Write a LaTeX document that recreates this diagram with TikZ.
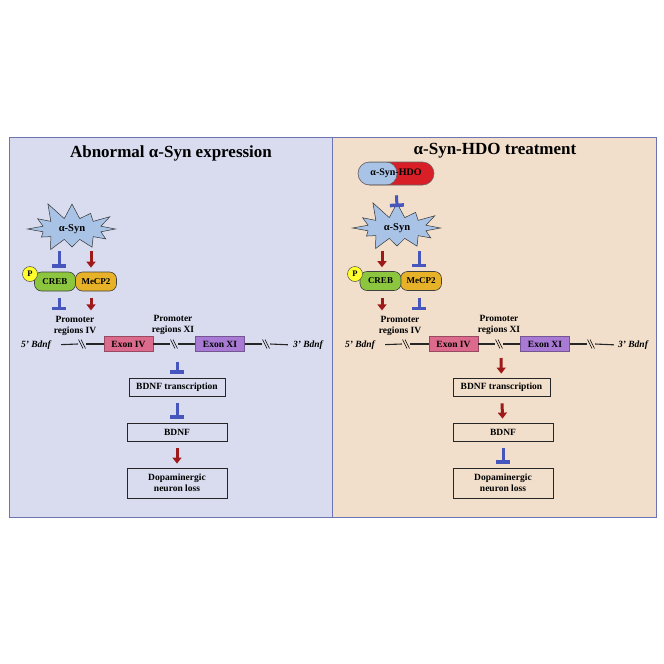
\documentclass[tikz,border=0pt]{standalone}
\usepackage{fontspec}
\setmainfont{Liberation Serif}
\usetikzlibrary{positioning,arrows.meta,shapes.misc,shapes.symbols}
\definecolor{panelL}{HTML}{D8DCEE}
\definecolor{panelR}{HTML}{F1DFCB}
\definecolor{frame}{HTML}{6C74B4}
\definecolor{synblue}{HTML}{A9C3E6}
\definecolor{crebgreen}{HTML}{8CC63F}
\definecolor{mecporange}{HTML}{E8B228}
\definecolor{pyellow}{HTML}{FFFF2E}
\definecolor{exonpink}{HTML}{DB6A8D}
\definecolor{exonpurple}{HTML}{A87AD4}
\definecolor{inhblue}{HTML}{4656BC}
\definecolor{actred}{HTML}{9E1A1A}
\definecolor{hdored}{HTML}{D81E26}

\tikzset{
  panel/.style={draw=frame, line width=1pt},
  paneltitle/.style={font=\fontsize{17}{20}\selectfont\bfseries, inner sep=0pt},
  lbl/.style={font=\fontsize{9.5}{10.5}\selectfont\bfseries, align=center, inner sep=0pt},
  syn/.style={starburst, starburst points=12, starburst point height=19pt, random starburst=11,
    fill=synblue, draw=black!80, line width=0.5pt, font=\fontsize{10.5}{12}\selectfont\bfseries,
    inner xsep=8pt, inner ysep=3pt},
  prot/.style={rounded corners=7pt, draw=black!75, line width=0.6pt, minimum width=41pt,
    minimum height=19pt, inner sep=0pt, font=\fontsize{9}{10}\selectfont\bfseries},
  phos/.style={circle, fill=pyellow, draw=black!70, line width=0.5pt, minimum size=15pt,
    inner sep=0pt, font=\fontsize{8.5}{9}\selectfont\bfseries},
  exon/.style={rectangle, line width=0.9pt, minimum width=49pt, minimum height=15pt,
    inner sep=0pt, font=\fontsize{9.5}{11}\selectfont\bfseries},
  stepbox/.style={rectangle, draw=black!85, line width=0.8pt, minimum width=100pt,
    minimum height=18pt, inner sep=0pt, align=center, font=\fontsize{9.5}{11}\selectfont\bfseries},
  bdnfend/.style={font=\fontsize{9.5}{11}\selectfont\bfseries\itshape, inner sep=0pt},
  gene/.style={draw=black!85, line width=1.1pt},
  brk/.style={inner sep=0pt, minimum width=8pt, minimum height=9pt, path picture={
    \draw[line width=0.5pt] ([xshift=0.5pt]path picture bounding box.north west)
      -- ([xshift=-3pt]path picture bounding box.south east);
    \draw[line width=0.5pt] ([xshift=3pt]path picture bounding box.north west)
      -- ([xshift=-0.5pt]path picture bounding box.south east);}},
  hdo/.style={rounded rectangle, draw=black!60, line width=0.6pt, fill=hdored,
    minimum width=76pt, minimum height=23pt, inner sep=0pt, font=\fontsize{10}{11}\selectfont\bfseries,
    path picture={\filldraw[fill=synblue, draw=black!60, line width=0.6pt, rounded corners=11pt]
      ([xshift=-15pt]path picture bounding box.north west) rectangle
      ([xshift=39pt]path picture bounding box.south west);}},
  act/.style={draw=actred, line width=3pt, -{Triangle[width=9pt,length=6pt]},
    shorten <=7pt, shorten >=4pt},
  inh/.style={draw=inhblue, line width=3pt, -{Rectangle[width=14pt,length=3.5pt]},
    shorten <=7pt, shorten >=4pt},
}

\begin{document}
\begin{tikzpicture}[x=1pt, y=-1pt]
\useasboundingbox (0,0) rectangle (664,664);
\draw[panel, fill=panelL] (9,137) rectangle (332,517);
\draw[panel, fill=panelR] (332,137) rectangle (656,517);

% abnormal expression
\node[paneltitle] (titleL) at (171,153) {Abnormal α-Syn expression};
\node[syn] (synL) at (72,229) {α-Syn};
\node[prot, fill=mecporange] (mecpL) at (96,281.5) {MeCP2};
\node[prot, fill=crebgreen] (crebL) at (55,281.5) {CREB};
\node[phos] (pL) at (30,274) {P};
\node[lbl] (prIVL) at (75,326) {Promoter\\regions IV};
\node[lbl] (prXIL) at (173,325) {Promoter\\regions XI};
\node[bdnfend] (b5L) at (36,345) {5’ Bdnf};
\node[brk] (k1L) at (82,344) {};
\node[exon, fill=exonpink, draw=exonpink!70!black] (exIVL) at (128.5,344) {Exon IV};
\node[brk] (k2L) at (174,344) {};
\node[exon, fill=exonpurple, draw=exonpurple!70!black] (exXIL) at (220,344) {Exon XI};
\node[brk] (k3L) at (266,344) {};
\node[bdnfend] (b3L) at (308,345) {3’ Bdnf};
\node[stepbox, minimum width=96pt] (transL) at (177,387) {BDNF transcription};
\node[stepbox] (bdnfL) at (177,432) {BDNF};
\node[stepbox, minimum height=30pt] (lossL) at (177,483) {Dopaminergic\\neuron loss};
\coordinate (sa1L) at (59,251);
\coordinate (sa2L) at (91,251);
\coordinate (geneL) at (177,355);
\draw[gene, shorten <=10pt] (b5L.east) -- (k1L.west);
\draw[gene] (k1L.east) -- (exIVL.west);
\draw[gene] (exIVL.east) -- (k2L.west);
\draw[gene] (k2L.east) -- (exXIL.west);
\draw[gene] (exXIL.east) -- (k3L.west);
\draw[gene, shorten >=5pt] (k3L.east) -- (b3L.west);
\draw[inh, shorten <=0pt] (sa1L) -- ([xshift=4pt]crebL.north);
\draw[act, shorten <=0pt] (sa2L) -- ([xshift=-5pt]mecpL.north);
\draw[inh, shorten >=6pt] ([xshift=4pt]crebL.south) -- ([xshift=4pt]crebL.south |- prIVL.north);
\draw[act, shorten >=6pt] ([xshift=-5pt]mecpL.south) -- ([xshift=-5pt]mecpL.south |- prIVL.north);
\draw[inh] (geneL) -- (transL);
\draw[inh] (transL) -- (bdnfL);
\draw[act] (bdnfL) -- (lossL);

% HDO treatment
\node[paneltitle] (titleR) at (495,151) {α-Syn-HDO treatment};
\node[hdo] (hdoR) at (396,173.5) {α-Syn-HDO};
\node[syn] (synR) at (397,228) {α-Syn};
\node[prot, fill=mecporange] (mecpR) at (421,281) {MeCP2};
\node[prot, fill=crebgreen] (crebR) at (380.5,281) {CREB};
\node[phos] (pR) at (355,274) {P};
\node[lbl] (prIVR) at (400,326) {Promoter\\regions IV};
\node[lbl] (prXIR) at (499,325) {Promoter\\regions XI};
\node[bdnfend] (b5R) at (360,345) {5’ Bdnf};
\node[brk] (k1R) at (406,344) {};
\node[exon, fill=exonpink, draw=exonpink!70!black] (exIVR) at (453.5,344) {Exon IV};
\node[brk] (k2R) at (499,344) {};
\node[exon, fill=exonpurple, draw=exonpurple!70!black] (exXIR) at (545,344) {Exon XI};
\node[brk] (k3R) at (591,344) {};
\node[bdnfend] (b3R) at (633,345) {3’ Bdnf};
\node[stepbox, minimum width=97pt] (transR) at (501.5,387) {BDNF transcription};
\node[stepbox] (bdnfR) at (503,432) {BDNF};
\node[stepbox, minimum height=30pt] (lossR) at (503,483) {Dopaminergic\\neuron loss};
\coordinate (s0R) at (397,207);
\coordinate (sa1R) at (382,251);
\coordinate (sa2R) at (419,251);
\coordinate (geneR) at (501,351);
\draw[gene, shorten <=10pt] (b5R.east) -- (k1R.west);
\draw[gene] (k1R.east) -- (exIVR.west);
\draw[gene] (exIVR.east) -- (k2R.west);
\draw[gene] (k2R.east) -- (exXIR.west);
\draw[gene] (exXIR.east) -- (k3R.west);
\draw[gene, shorten >=4pt] (k3R.east) -- (b3R.west);
\draw[inh, shorten <=10pt, shorten >=0pt] (hdoR.south) -- (s0R);
\draw[act, shorten <=0pt] (sa1R) -- ([xshift=1.5pt]crebR.north);
\draw[inh, shorten <=0pt] (sa2R) -- ([xshift=-2pt]mecpR.north);
\draw[act, shorten >=6pt] ([xshift=1.5pt]crebR.south) -- ([xshift=1.5pt]crebR.south |- prIVR.north);
\draw[inh, shorten >=6pt] ([xshift=-2pt]mecpR.south) -- ([xshift=-2pt]mecpR.south |- prIVR.north);
\draw[act] (geneR) -- (transR);
\draw[act] (transR) -- (bdnfR);
\draw[inh] (bdnfR) -- (lossR);
\end{tikzpicture}
\end{document}
